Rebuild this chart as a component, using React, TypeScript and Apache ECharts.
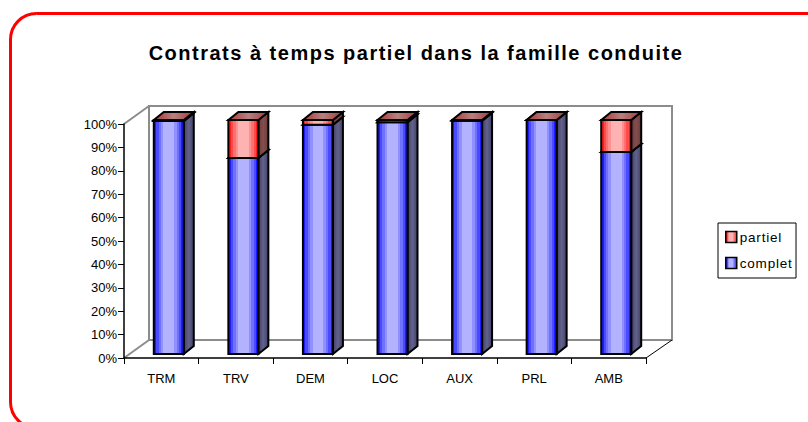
import React, { useEffect, useRef } from "react";
import * as echarts from "echarts";

const categories = ["TRM", "TRV", "DEM", "LOC", "AUX", "PRL", "AMB"];
const complet = [99.6, 83.8, 98, 99, 99.7, 100, 86.3];
const partiel = [0.4, 16.2, 2, 1, 0.3, 0, 13.7];

const bands = [0, 0.08, 0.16, 0.24, 0.32, 0.68, 0.76, 0.84, 0.92, 1];
const hGrad = (c: string[]) => {
  const ramp = [c[0], c[1], c[2], c[3], c[4], c[3], c[2], c[1], c[0]];
  const stops: { offset: number; color: string }[] = [];
  ramp.forEach((col, i) => {
    stops.push({ offset: bands[i], color: col });
    stops.push({ offset: bands[i + 1], color: col });
  });
  return new echarts.graphic.LinearGradient(0, 0, 1, 0, stops);
};
const blue = ["#1c1cff", "#4a4aff", "#7070ff", "#9090ff", "#b2b2ff"];
const red = ["#ff1c1c", "#ff4a4a", "#ff7070", "#ff9090", "#ffb2b2"];
const twoTone = (a: string, b: string) =>
  new echarts.graphic.LinearGradient(0, 0, 1, 0, [
    { offset: 0, color: a },
    { offset: 0.5, color: b },
    { offset: 1, color: a },
  ]);
const redTop = twoTone("#a83838", "#b88080");
const blueSide = twoTone("#40406a", "#62628a");
const redSide = twoTone("#6a3a3a", "#864e4e");

const GRID = { left: 124, top: 124, width: 522, height: 234 };
const DX = 26, DY = -18;
const BAR_W = 30, BAR_SHIFT = 7.5, BAR_LIFT = 4, BD = 10, BH = 8;

const barRender = (front: any, side: any, top: any) => (_p: any, api: any) => {
  const cat = api.value(0);
  const y0 = api.coord([cat, api.value(1)]);
  const y1 = api.coord([cat, api.value(2)]);
  const l = y0[0] + BAR_SHIFT - BAR_W / 2;
  const r = l + BAR_W;
  const b = y0[1] - BAR_LIFT;
  const t = y1[1] - BAR_LIFT;
  const line = { stroke: "#000", lineWidth: 2, lineJoin: "miter" };
  return {
    type: "group",
    children: [
      {
        type: "polygon",
        shape: { points: [[r, b], [r + BD, b - BH], [r + BD, t - BH], [r, t]] },
        style: { fill: side, ...line },
      },
      {
        type: "polygon",
        shape: { points: [[l, t], [l + BD, t - BH], [r + BD, t - BH], [r, t]] },
        style: { fill: top, ...line },
      },
      {
        type: "rect",
        shape: { x: l, y: t, width: BAR_W, height: b - t },
        style: { fill: front, ...line },
      },
    ],
  };
};

const wallLines: number[][][] = [
  [[GRID.left, GRID.top], [GRID.left + DX - 1, GRID.top + DY]],
  [[GRID.left, GRID.top + GRID.height], [GRID.left + DX - 1, GRID.top + GRID.height + DY]],
];

export default function App() {
  const ref = useRef<HTMLDivElement>(null);
  useEffect(() => {
    document.body.style.margin = "0";
    const chart = echarts.init(ref.current!, undefined, { renderer: "svg" });
    const backL = GRID.left + DX - 1;
    const backT = GRID.top + DY;
    const backR = GRID.left + GRID.width + DX;
    const backB = GRID.top + GRID.height + DY;
    chart.setOption({
      animation: false,
      backgroundColor: "#fff",
      textStyle: { fontFamily: "Liberation Sans" },
      title: {
        text: "Contrats à temps partiel dans la famille conduite",
        left: 411,
        top: 38,
        textAlign: "center",
        textStyle: { fontFamily: "Liberation Sans", fontWeight: "bold", fontSize: 20, color: "#000" },
      },
      grid: GRID,
      legend: {
        orient: "vertical",
        left: 718,
        top: 223,
        padding: [7, 9, 8, 7],
        itemGap: 12,
        itemWidth: 11,
        itemHeight: 11,
        borderColor: "#000",
        borderWidth: 1,
        data: ["partiel", "complet"],
        icon: "rect",
        textStyle: { fontFamily: "Liberation Sans", fontSize: 13.5, color: "#000", padding: [0, 0, 0, -2], width: 57 },
        itemStyle: { borderColor: "#000", borderWidth: 1.5 },
      },
      xAxis: {
        type: "category",
        data: categories,
        axisLine: { lineStyle: { color: "#000", width: 1.5 } },
        axisTick: { show: true, alignWithLabel: false, length: 6, lineStyle: { color: "#000", width: 1 } },
        axisLabel: { color: "#000", fontSize: 13, margin: 14 },
      },
      yAxis: {
        type: "value",
        min: 0,
        max: 100,
        interval: 10,
        splitLine: { show: false },
        axisLine: { show: true, lineStyle: { color: "#000", width: 1.5 } },
        axisTick: { show: true, length: 6, lineStyle: { color: "#000", width: 1 } },
        axisLabel: { color: "#000", fontSize: 13, margin: 7, formatter: "{value}%" },
      },
      graphic: {
        elements: [
          { type: "rect", shape: { x: 10.5, y: 13.5, width: 900, height: 414.5, r: 26 }, style: { fill: "none", stroke: "#ff0000", lineWidth: 3 }, z: -1 },
          { type: "rect", shape: { x: backL, y: backT, width: backR - backL, height: backB - backT }, style: { fill: "none", stroke: "#8c8c8c", lineWidth: 2 }, z: -1 },
          ...wallLines.map((p) => ({
            type: "line",
            shape: { x1: p[0][0], y1: p[0][1], x2: p[1][0], y2: p[1][1] },
            style: { stroke: "#8c8c8c", lineWidth: 2 },
            z: -1,
          })),
          {
            type: "line",
            shape: { x1: GRID.left + GRID.width, y1: GRID.top + GRID.height, x2: backR, y2: backB },
            style: { stroke: "#000", lineWidth: 1 },
            z: -1,
          },
        ],
      },
      series: [
        {
          name: "complet",
          type: "custom",
          z: 3,
          itemStyle: { color: hGrad(blue) },
          encode: { x: 0, y: 2 },
          data: categories.map((_, i) => [i, 0, complet[i]]),
          renderItem: barRender(hGrad(blue), blueSide, redTop),
        },
        {
          name: "partiel",
          type: "custom",
          z: 4,
          itemStyle: { color: hGrad(red) },
          encode: { x: 0, y: 2 },
          data: categories.map((_, i) => [i, complet[i], complet[i] + partiel[i]]),
          renderItem: barRender(hGrad(red), redSide, redTop),
        },
      ],
    });
    return () => chart.dispose();
  }, []);
  return (
    <>
      <style>{`text[style*="20px"] { letter-spacing: 1.5px; } text[style*="13.5px"] { letter-spacing: 0.8px; }`}</style>
      <div ref={ref} style={{ width: 808, height: 422 }} />
    </>
  );
}
